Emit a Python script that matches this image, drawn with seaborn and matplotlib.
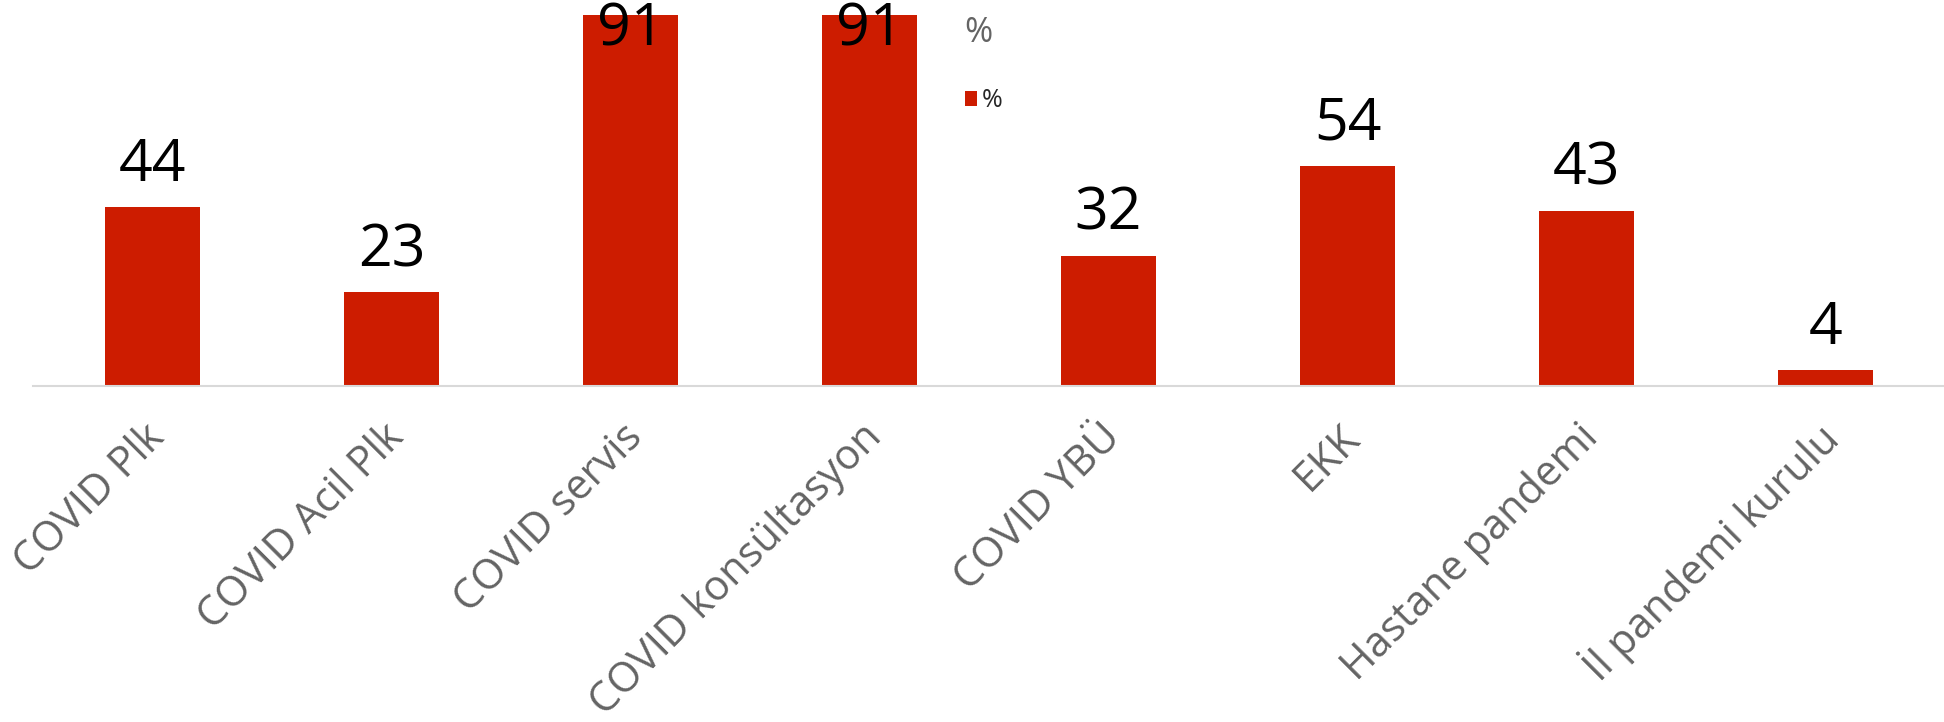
import matplotlib
matplotlib.use('Agg')
import matplotlib.pyplot as plt
import matplotlib.transforms as mtransforms
import seaborn as sns

categories = ['COVID Plk', 'COVID Acil Plk', 'COVID servis', 'COVID konsültasyon',
              'COVID YBÜ', 'EKK', 'Hastane pandemi', 'İl pandemi kurulu']
values = [44, 23, 91, 91, 32, 54, 43, 4]
series_name = '%'

bar_color = '#CD1C00'
label_gray = '#646464'

sns.set_style('white')
plt.rcParams['font.family'] = ['Open Sans', 'DejaVu Sans']

fig = plt.figure(figsize=(19.44, 7.22), dpi=100)
ax = fig.add_axes([33 / 1944, 1 - 386 / 722, 1912 / 1944, 371 / 722])

sns.barplot(x=categories, y=values, color=bar_color, saturation=1, width=0.4,
            label=series_name, linewidth=0, ax=ax)

ax.set_xlim(-0.5, len(categories) - 0.5)
ax.set_ylim(0, 91)
ax.set_xlabel('')
ax.set_ylabel('')
ax.set_yticks([])

for side in ['top', 'right', 'left']:
    ax.spines[side].set_visible(False)
ax.spines['bottom'].set_color('#D9D9D9')
ax.spines['bottom'].set_linewidth(1.5)

# value labels; the tallest ones get pushed inside the bar like in excel
for i, v in enumerate(values):
    y = min(v + 6.4, 83.6)
    ax.text(i, y, str(v), ha='center', va='baseline', fontsize=42.5, color='black')

ax.tick_params(axis='x', length=0, pad=32.5, colors=label_gray, labelsize=30)
offset = mtransforms.ScaledTranslation(6 / 100, 0, fig.dpi_scale_trans)
for lbl in ax.get_xticklabels():
    lbl.set_rotation(45)
    lbl.set_ha('right')
    lbl.set_va('center')
    lbl.set_rotation_mode('anchor')
    lbl.set_transform(lbl.get_transform() + offset)

leg = ax.legend(loc='upper left', bbox_to_anchor=(952 / 1944, 1 - 3 / 722),
                bbox_transform=fig.transFigure, frameon=False, borderpad=0,
                title='%', title_fontsize=24.5, fontsize=18, alignment='left',
                handlelength=0.5, handleheight=0.5, handletextpad=0.2,
                labelspacing=1.55)
leg.get_title().set_color(label_gray)

fig.savefig('out.png', dpi=100)
